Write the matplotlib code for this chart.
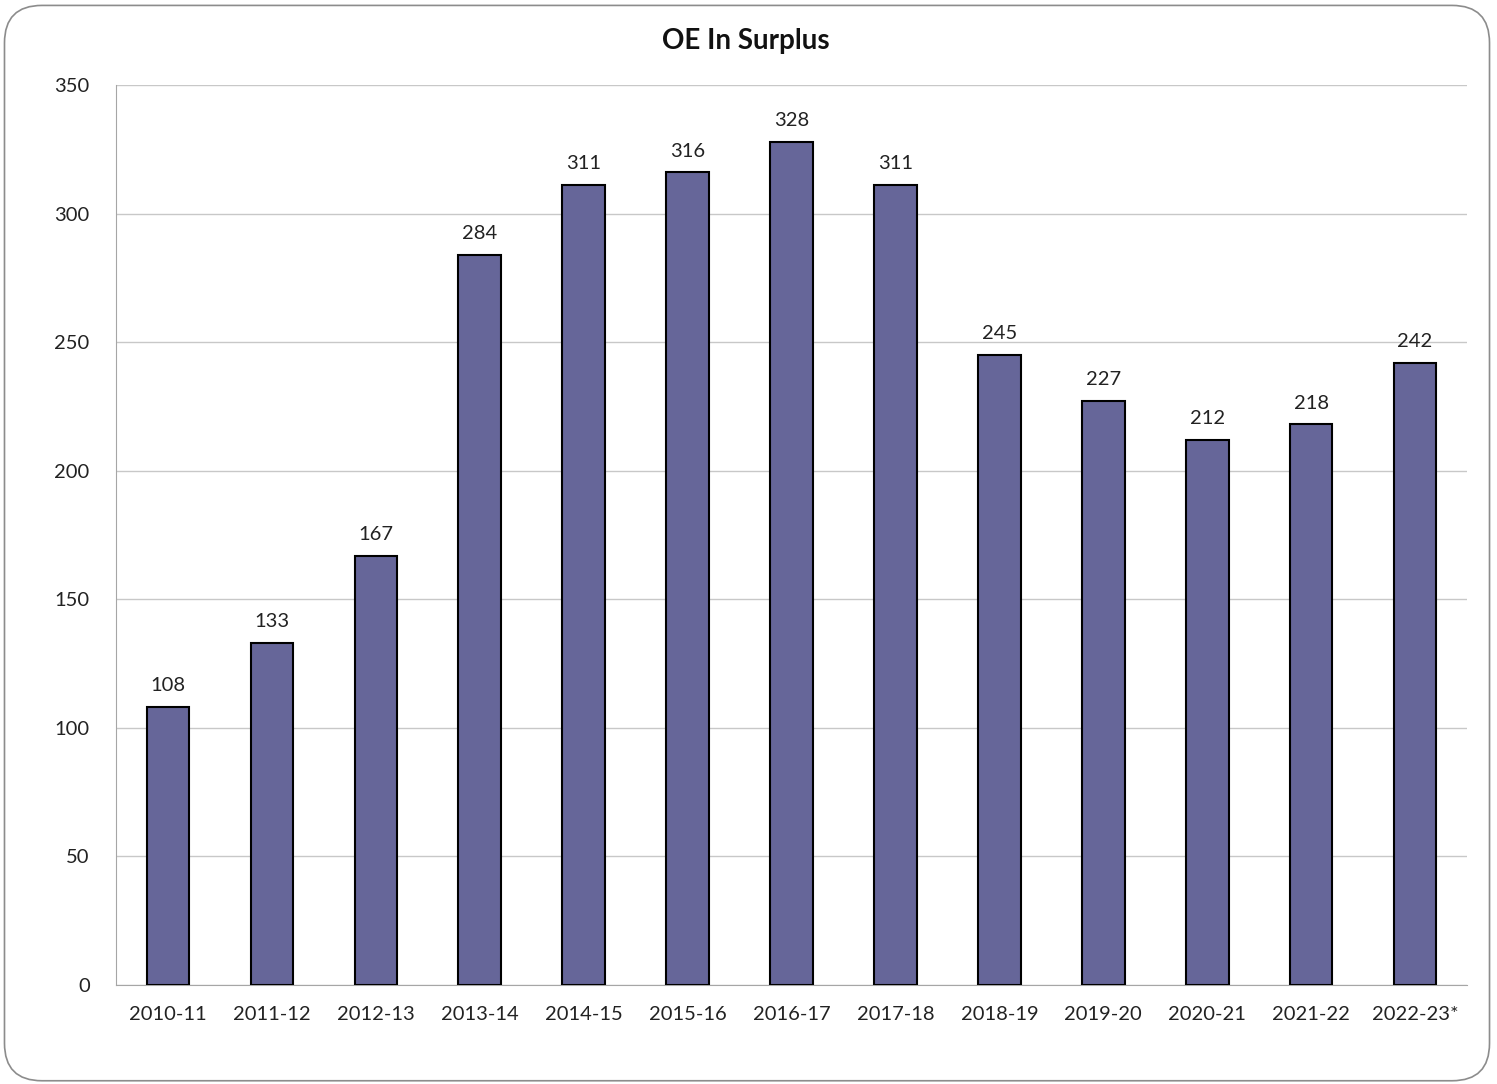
import matplotlib.pyplot as plt
from matplotlib.patches import FancyBboxPatch

years = ["2010-11", "2011-12", "2012-13", "2013-14", "2014-15", "2015-16", "2016-17",
         "2017-18", "2018-19", "2019-20", "2020-21", "2021-22", "2022-23*"]
surplus = [108, 133, 167, 284, 311, 316, 328, 311, 245, 227, 212, 218, 242]

plt.rcParams['font.family'] = ['Lato', 'DejaVu Sans']

fig = plt.figure(figsize=(14.97, 10.84), dpi=100)
border = FancyBboxPatch((0.003, 0.003), 0.992, 0.992, boxstyle="round,pad=0,rounding_size=0.025",
                        transform=fig.transFigure, facecolor='white', edgecolor='#8c8c8c',
                        linewidth=1.2, mutation_aspect=1497/1084, zorder=-1)
fig.patches.append(border)

ax = fig.add_axes([0.0775, 0.0913, 0.9025, 0.8303])
ax.set_facecolor('none')
x = range(len(years))
bars = ax.bar(x, surplus, width=0.41, color='#666699', edgecolor='black', linewidth=1.5, zorder=3)
for xi, v in zip(x, surplus):
    ax.text(xi, v + 5, str(v), ha='center', va='bottom', fontsize=14.5, color='#222222')

ax.set_xlim(-0.5, len(years) - 0.5)
ax.set_ylim(0, 350)
ax.set_yticks(range(0, 351, 50))
ax.set_xticks(list(x))
ax.set_xticklabels(years)
ax.tick_params(axis='both', length=0, labelsize=14.5, colors='#222222')
ax.tick_params(axis='y', pad=19)
ax.tick_params(axis='x', pad=15)
ax.grid(axis='y', color='#c8c8c8', linewidth=1, zorder=0)
for s in ['top', 'right']:
    ax.spines[s].set_visible(False)
ax.spines['left'].set_color('#a6a6a6')
ax.spines['bottom'].set_color('#a6a6a6')

fig.text(0.4985, 0.962, "OE In Surplus", ha='center', va='center', fontsize=20, fontweight='bold', color='#111111')

fig.savefig("out.png", dpi=100)
